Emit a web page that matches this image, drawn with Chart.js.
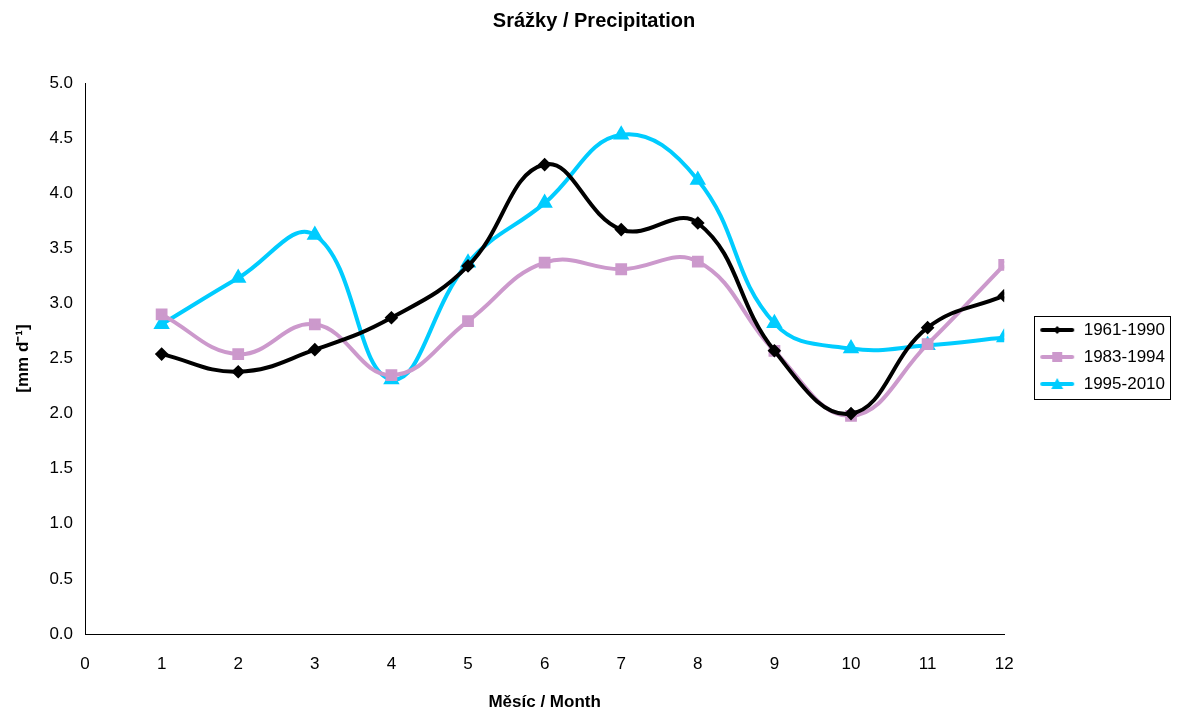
<!DOCTYPE html>
<html>
<head>
<meta charset="utf-8">
<script src="https://cdn.jsdelivr.net/npm/chart.js@4"></script>
<style>
  html, body { margin: 0; padding: 0; background: #fff; }
  #wrap { width: 1181px; height: 708px; }
</style>
</head>
<body>
<div id="wrap"><canvas id="chart" width="1181" height="708"></canvas></div>
<script>
// data
var months = [1, 2, 3, 4, 5, 6, 7, 8, 9, 10, 11, 12];
var s1961 = [2.54, 2.38, 2.58, 2.87, 3.34, 4.26, 3.67, 3.73, 2.57, 2.00, 2.78, 3.07];
var s1983 = [2.90, 2.54, 2.81, 2.35, 2.84, 3.37, 3.31, 3.38, 2.57, 1.98, 2.63, 3.35];
var s1995 = [2.81, 3.23, 3.62, 2.31, 3.37, 3.91, 4.53, 4.12, 2.82, 2.59, 2.62, 2.69];
var seriesNames = ['1961-1990', '1983-1994', '1995-2010'];

var font = "'Liberation Sans', Arial, sans-serif";

function pts(vals) {
  return months.map(function (m, i) { return { x: m, y: vals[i] }; });
}

// little legend swatch: line + marker
function swatch(color, style) {
  var c = document.createElement('canvas');
  c.width = 36; c.height = 14;
  var g = c.getContext('2d');
  g.strokeStyle = color; g.fillStyle = color;
  g.lineWidth = 4; g.lineCap = 'round';
  g.beginPath(); g.moveTo(3, 7); g.lineTo(33, 7); g.stroke();
  g.beginPath();
  if (style === 'diamond') {
    g.moveTo(18, 3); g.lineTo(22, 7); g.lineTo(18, 11); g.lineTo(14, 7);
  } else if (style === 'square') {
    g.rect(13, 2, 10, 10);
  } else {
    g.moveTo(18, 1); g.lineTo(24, 12); g.lineTo(12, 12);
  }
  g.closePath(); g.fill();
  return c;
}

var colors = ['#000000', '#CC99CC', '#00CCFF'];
var swatches = [swatch(colors[0], 'diamond'), swatch(colors[1], 'square'), swatch(colors[2], 'tri')];

// frame round the legend items only
var legendBorder = {
  id: 'legendBorder',
  afterDraw: function (chart) {
    var l = chart.legend;
    if (!l || !l.legendHitBoxes || !l.legendHitBoxes.length) return;
    var x0 = 1e9, y0 = 1e9, x1 = -1e9, y1 = -1e9;
    l.legendHitBoxes.forEach(function (b) {
      x0 = Math.min(x0, b.left); y0 = Math.min(y0, b.top);
      x1 = Math.max(x1, b.left + b.width); y1 = Math.max(y1, b.top + b.height);
    });
    var ctx = chart.ctx;
    ctx.save();
    ctx.strokeStyle = '#000';
    ctx.lineWidth = 1;
    ctx.strokeRect(Math.round(x0 - 5) + 0.5, Math.round(y0 - 6) + 0.5, Math.round(x1 - x0 + 10), Math.round(y1 - y0 + 12));
    ctx.restore();
  }
};

new Chart(document.getElementById('chart'), {
  type: 'line',
  data: {
    datasets: [
      {
        label: seriesNames[0], data: pts(s1961),
        borderColor: colors[0], backgroundColor: colors[0],
        borderWidth: 4, pointStyle: 'rectRot', pointRadius: 4,
        tension: 0.42, fill: false
      },
      {
        label: seriesNames[1], data: pts(s1983),
        borderColor: colors[1], backgroundColor: colors[1],
        borderWidth: 4, pointStyle: 'rect', pointRadius: 5.5,
        tension: 0.42, fill: false
      },
      {
        label: seriesNames[2], data: pts(s1995),
        borderColor: colors[2], backgroundColor: colors[2],
        borderWidth: 4, pointStyle: 'triangle', pointRadius: 5.5,
        tension: 0.42, fill: false
      }
    ]
  },
  options: {
    responsive: false,
    animation: false,
    layout: { padding: { left: 13, right: 6, top: 6, bottom: 0 } },
    plugins: {
      title: {
        display: true,
        text: 'Srážky / Precipitation',
        color: '#000',
        font: { family: font, size: 20, weight: 'bold' },
        padding: { top: 3, bottom: 50 }
      },
      legend: {
        position: 'right',
        labels: {
          usePointStyle: true,
          pointStyleWidth: 36,
          color: '#000',
          font: { family: font, size: 17 },
          padding: 10,
          generateLabels: function (chart) {
            return chart.data.datasets.map(function (ds, i) {
              return {
                text: ds.label, pointStyle: swatches[i],
                fillStyle: ds.borderColor, strokeStyle: ds.borderColor,
                lineWidth: 0, hidden: false, datasetIndex: i, fontColor: '#000'
              };
            });
          }
        }
      },
      tooltip: { enabled: false }
    },
    scales: {
      x: {
        type: 'linear', min: 0, max: 12,
        grid: { display: false, drawTicks: true, tickLength: 6, tickColor: '#000' },
        border: { color: '#000', width: 1 },
        ticks: { stepSize: 1, color: '#000', font: { family: font, size: 17, lineHeight: 1 }, padding: 16 },
        title: {
          display: true, text: 'Měsíc / Month', color: '#000',
          font: { family: font, size: 17, weight: 'bold', lineHeight: 1 }, padding: { top: 5, bottom: -3 }
        }
      },
      y: {
        min: 0, max: 5,
        grid: { display: false, drawTicks: true, tickLength: 6, tickColor: '#000' },
        border: { color: '#000', width: 1 },
        ticks: {
          stepSize: 0.5, color: '#000', font: { family: font, size: 17 }, padding: 6,
          callback: function (v) { return v.toFixed(1); }
        },
        title: {
          display: true, text: '[mm d⁻¹]', color: '#000',
          font: { family: font, size: 17, weight: 'bold' }, padding: { top: 0, bottom: 10 }
        }
      },
      // empty spacer between plot and legend
      gap: {
        type: 'linear', position: 'right', display: true,
        grid: { display: false, drawTicks: false },
        border: { display: false },
        ticks: { display: false },
        afterFit: function (s) { s.width = 25; }
      }
    }
  },
  plugins: [legendBorder]
});
</script>
</body>
</html>
